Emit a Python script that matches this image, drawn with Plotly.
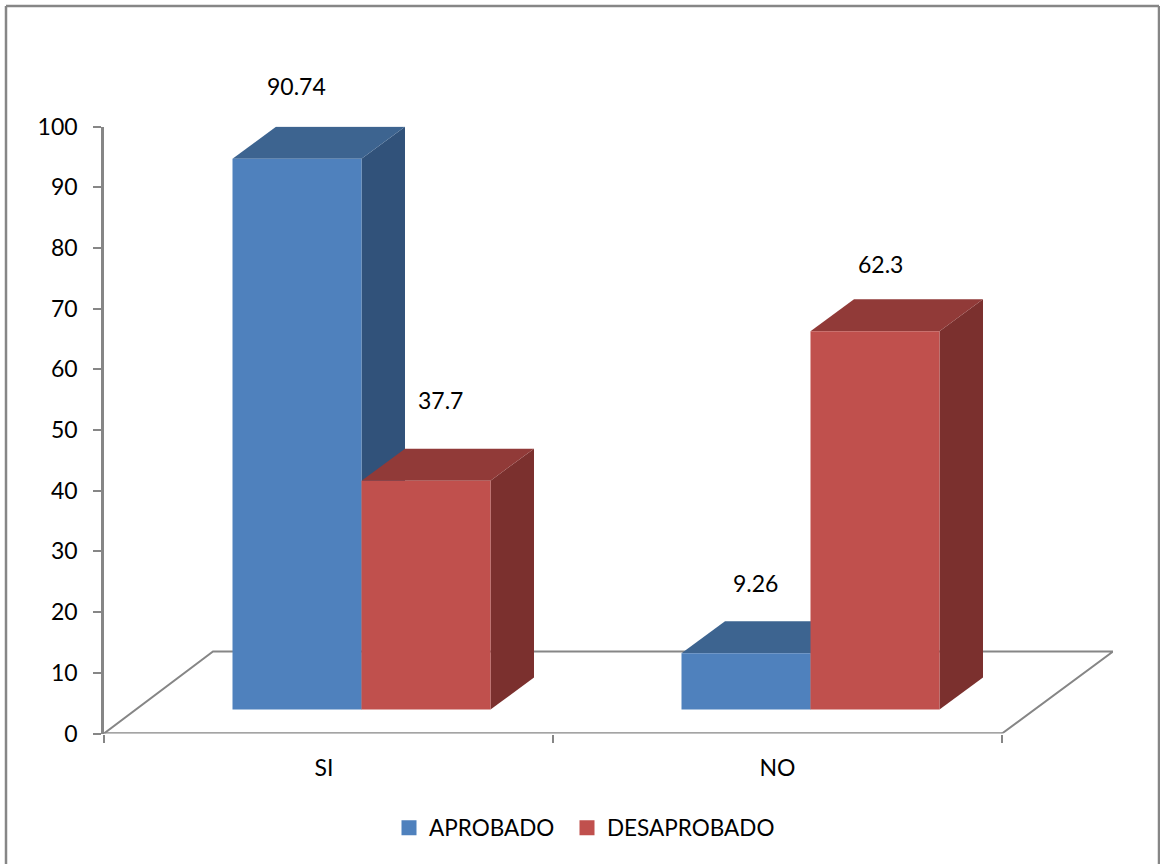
import plotly.graph_objects as go

# Data
categories = ["SI", "NO"]
series_names = ["APROBADO", "DESAPROBADO"]
aprobado = [90.74, 9.26]
desaprobado = [37.7, 62.3]
y_ticks = [0, 10, 20, 30, 40, 50, 60, 70, 80, 90, 100]

# Colours: front, top and side face of each column
BLUE = ("#4F81BD", "#3D6490", "#31527A")
RED = ("#C0504D", "#913A38", "#7B302E")
GRAY = "#868686"
FONT = "Lato"
FONT_SIZE = 23

W, H = 1160, 864
PX_LEFT, PX_TICK_END, PX_RIGHT = 104, 1002, 1113
PX_BOTTOM, PX_TOP = 733.5, 126.5
PX_PER_X = (PX_TICK_END - PX_LEFT) / 2
PX_PER_Y = (PX_BOTTOM - PX_TOP) / 100

# Oblique projection of the depth axis, in axis units
FLOOR_DX, FLOOR_DY = 109 / PX_PER_X, 82 / PX_PER_Y
BAR_DX, BAR_DY = 43.5 / PX_PER_X, 32 / PX_PER_Y
BASE_DX, BASE_DY = 33 / PX_PER_X, 24 / PX_PER_Y
BAR_W = 129 / PX_PER_X

x_max = (PX_RIGHT - PX_LEFT) / PX_PER_X
centers = [0.5 + BASE_DX, 1.5 + BASE_DX]

series = [
    (series_names[0], aprobado, BLUE, -BAR_W / 2),
    (series_names[1], desaprobado, RED, BAR_W / 2),
]

fig = go.Figure()


def poly(xs, ys, color):
    fig.add_trace(go.Scatter(x=xs, y=ys, mode="lines", fill="toself", fillcolor=color,
                             line=dict(width=0, color=color), hoverinfo="skip",
                             showlegend=False, cliponaxis=False))


def rule(xs, ys, width):
    fig.add_trace(go.Scatter(x=xs, y=ys, mode="lines", line=dict(color=GRAY, width=width),
                             hoverinfo="skip", showlegend=False, cliponaxis=False))


# Floor outline and category axis line
rule([0, FLOOR_DX, x_max, 2], [0, FLOOR_DY, FLOOR_DY, 0], 2)
rule([0, 2], [0, 0], 2.5)

# Side and top faces, back to front, on the base axes
for name, vals, cols, off in series:
    for c, v in zip(centers, vals):
        l, r = c + off - BAR_W / 2, c + off + BAR_W / 2
        top = BASE_DY + v
        poly([r, r + BAR_DX, r + BAR_DX, r], [BASE_DY, BASE_DY + BAR_DY, top + BAR_DY, top], cols[2])
        poly([l, r, r + BAR_DX, l + BAR_DX], [top, top, top + BAR_DY, top + BAR_DY], cols[1])

# Front faces on an overlaid pair of axes so they cover the neighbouring depth faces
for name, vals, cols, off in series:
    fig.add_trace(go.Bar(x=centers, y=vals, base=BASE_DY, width=BAR_W, offset=off - BAR_W / 2,
                         marker=dict(color=cols[0], line=dict(width=0)), xaxis="x2", yaxis="y2",
                         showlegend=False, name=name))

# Legend entries, one legend per series so each can be placed on its own
legend_ids = ["legend", "legend2"]
for (name, vals, cols, off), legend_id in zip(series, legend_ids):
    fig.add_trace(go.Scatter(x=[None], y=[None], mode="markers", name=name, legend=legend_id,
                             marker=dict(symbol="square", size=15, color=cols[0])))

# Value labels, offset in pixels from the top of each column's front face
label_shift_x = [[-1, 14], [9.5, 5.5]]
label_shift_y = [[73, 81], [70, 67]]
annotations = []
for s, (name, vals, cols, off) in enumerate(series):
    for i, v in enumerate(vals):
        annotations.append(dict(x=centers[i] + off, y=BASE_DY + v, xref="x", yref="y",
                                text=str(v), showarrow=False,
                                xshift=label_shift_x[i][s], yshift=label_shift_y[i][s],
                                font=dict(family=FONT, size=FONT_SIZE, color="#000000")))

x_dom = [PX_LEFT / W, PX_RIGHT / W]
y_dom = [1 - PX_BOTTOM / H, 1 - PX_TOP / H]
x_range = [0, x_max]
legend_style = dict(xanchor="left", y=1 - 828 / H, yanchor="middle", bgcolor="rgba(0,0,0,0)",
                    font=dict(family=FONT, size=22.5), itemwidth=30)

fig.update_layout(
    width=W, height=H, margin=dict(l=0, r=0, t=0, b=0, autoexpand=False),
    paper_bgcolor="#FFFFFF", plot_bgcolor="rgba(0,0,0,0)",
    font=dict(family=FONT, size=FONT_SIZE, color="#000000"),
    xaxis=dict(domain=x_dom, range=x_range, showgrid=False, zeroline=False, showline=False,
               tickmode="array", tickvals=[0.49, 1.5], ticktext=categories, ticks="",
               ticklabelstandoff=18,
               minor=dict(tickmode="array", tickvals=[0, 1, 2], ticks="outside", ticklen=8,
                          tickwidth=2, tickcolor=GRAY, showgrid=False)),
    yaxis=dict(domain=y_dom, range=[0, 100], showgrid=False, zeroline=False, showline=True,
               linecolor=GRAY, linewidth=2.5, ticks="outside", ticklen=8, tickwidth=2, tickcolor=GRAY,
               tickmode="array", tickvals=y_ticks, ticklabelstandoff=11),
    xaxis2=dict(domain=x_dom, range=x_range, overlaying="x", visible=False),
    yaxis2=dict(domain=y_dom, range=[0, 100], overlaying="y", visible=False),
    barmode="overlay",
    legend=dict(x=389 / W, **legend_style),
    legend2=dict(x=567 / W, **legend_style),
    annotations=annotations,
    shapes=[
        dict(type="line", xref="paper", yref="paper", x0=6 / W, x1=1159 / W, y0=1 - 6 / H, y1=1 - 6 / H,
             line=dict(color=GRAY, width=2.5)),
        dict(type="line", xref="paper", yref="paper", x0=6 / W, x1=6 / W, y0=0, y1=1 - 6 / H,
             line=dict(color=GRAY, width=2.5)),
        dict(type="line", xref="paper", yref="paper", x0=1159 / W, x1=1159 / W, y0=0, y1=1 - 6 / H,
             line=dict(color=GRAY, width=2.5)),
    ],
)

fig.write_html("out.html")
